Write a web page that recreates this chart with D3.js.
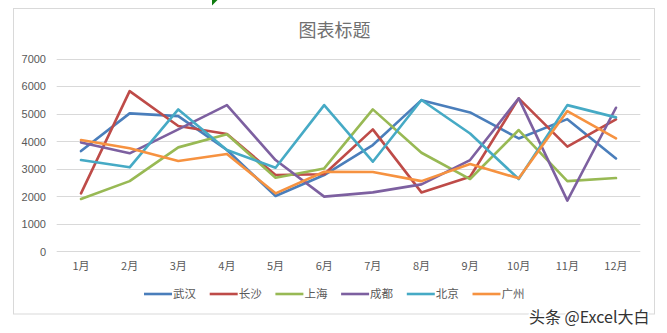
<!DOCTYPE html>
<html><head><meta charset="utf-8">
<script src="https://cdn.jsdelivr.net/npm/d3@7"></script>
<style>
html,body{margin:0;padding:0;background:#fff;}
svg{display:block;}
text{font-family:"Noto Sans CJK SC","Liberation Sans",sans-serif;}
</style></head>
<body><svg id="c" width="667" height="333"></svg>
<script>
const months = ["1月","2月","3月","4月","5月","6月","7月","8月","9月","10月","11月","12月"];
const yTicks = [0,1000,2000,3000,4000,5000,6000,7000];
const seriesNames = ["武汉","长沙","上海","成都","北京","广州"];
const seriesColors = ["#4A7EBB","#BE4B48","#98B954","#7D60A0","#46AAC5","#F69240"];
const wuhan   = [3640,5010,4910,3680,2010,2770,3860,5490,5045,4100,4800,3375];
const changsha= [2105,5820,4550,4260,2770,2800,4430,2140,2710,5555,3800,4790];
const shanghai= [1900,2550,3775,4250,2675,3010,5155,3580,2625,4405,2550,2660];
const chengdu = [3955,3560,4430,5310,3315,1985,2140,2430,3315,5555,1840,5215];
const beijing = [3315,3050,5155,3680,3035,5310,3255,5495,4280,2625,5310,4865];
const guangzhou=[4040,3740,3280,3535,2105,2890,2880,2550,3170,2650,5095,4100];
const seriesValues = [wuhan,changsha,shanghai,chengdu,beijing,guangzhou];
const title = "图表标题";
const watermark = "头条 @Excel大白";

const svg = d3.select("#c");
// Excel cell marker
svg.append("path").attr("d","M212,0L217.5,0L212,5.5Z").attr("fill","#107C10");
// chart border
svg.append("rect").attr("x",13.5).attr("y",8.5).attr("width",641).attr("height",305.5)
  .attr("fill","#fff").attr("stroke","#D9D9D9").attr("stroke-width",1);

const x = d3.scaleBand().domain(months).range([56.7,640.3]);
const y = d3.scaleLinear().domain([0,7000]).range([251.3,58.6]);

// gridlines
svg.append("g").selectAll("line").data(yTicks).join("line")
  .attr("x1",56.7).attr("x2",640.3)
  .attr("y1",d=>Math.round(y(d))+0.5).attr("y2",d=>Math.round(y(d))+0.5)
  .attr("stroke","#D9D9D9").attr("stroke-width",1);

// y axis labels
const yAxis = d3.axisLeft(y).tickValues(yTicks).tickSize(0).tickPadding(0).tickFormat(d3.format("d"));
const gy = svg.append("g").attr("transform","translate(46,0)").call(yAxis);
gy.select(".domain").remove();
gy.selectAll("text").attr("fill","#595959").attr("font-size",11).attr("dy","0.35em")
  .style("font-family","'Liberation Sans',sans-serif");

// x axis labels
const xAxis = d3.axisBottom(x).tickSize(0).tickPadding(0);
const gx = svg.append("g").attr("transform","translate(0,262)").call(xAxis);
gx.select(".domain").remove();
gx.selectAll("text").attr("fill","#595959").attr("font-size",11).attr("dy","0.71em");

// lines
const line = d3.line().x((d,i)=>x(months[i])+x.bandwidth()/2).y(d=>y(d));
svg.append("g").selectAll("path").data(seriesValues).join("path")
  .attr("d",d=>line(d)).attr("fill","none")
  .attr("stroke",(d,i)=>seriesColors[i]).attr("stroke-width",2.6)
  .attr("stroke-linejoin","round").attr("stroke-linecap","round");

// title
svg.append("text").attr("x",334.5).attr("y",37).attr("text-anchor","middle")
  .attr("font-size",18).attr("fill","#707070").text(title);

// legend
const lg = svg.append("g").selectAll("g").data(seriesNames).join("g")
  .attr("transform",(d,i)=>`translate(${144+i*65.7},294)`);
lg.append("line").attr("x1",0).attr("x2",28).attr("y1",0).attr("y2",0)
  .attr("stroke",(d,i)=>seriesColors[i]).attr("stroke-width",2.6);
lg.append("text").attr("x",29).attr("y",0).attr("dy","0.36em").attr("font-size",11.5)
  .attr("fill","#595959").text(d=>d);

// watermark
svg.append("text").attr("x",529).attr("y",323).attr("font-size",16)
  .attr("fill","#333").attr("stroke","#fff").attr("stroke-width",3).attr("paint-order","stroke")
  .text(watermark);
</script></body></html>
